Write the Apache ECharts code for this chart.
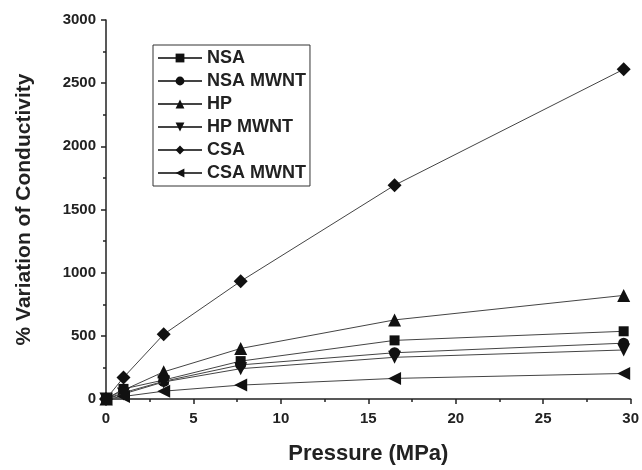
<!DOCTYPE html>
<html><head><meta charset="utf-8">
<script src="https://cdn.jsdelivr.net/npm/echarts@6/dist/echarts.min.js"></script>
<style>html,body{margin:0;padding:0;background:#fff}#c{width:642px;height:470px}</style>
</head><body><div id="c"></div>
<script>
const pressure = [0, 1.0, 3.3, 7.7, 16.5, 29.6];
const NSA      = [0, 80, 150, 300, 464, 536];
const NSA_MWNT = [0, 50, 140, 270, 366, 442];
const HP       = [0, 70, 215, 400, 626, 820];
const HP_MWNT  = [0, 40, 135, 240, 330, 388];
const CSA      = [0, 170, 512, 932, 1692, 2610];
const CSA_MWNT = [0, 20, 62, 110, 163, 202];
const seriesNames = ['NSA','NSA MWNT','HP','HP MWNT','CSA','CSA MWNT'];
const seriesData = [NSA, NSA_MWNT, HP, HP_MWNT, CSA, CSA_MWNT];
const symbols = ['rect','circle','triangle','triangle','diamond','triangle'];
const sizes = [10, 11, 13, 13, 14, 13];
const rotates = [0, 0, 0, 180, 0, 90];

const chart = echarts.init(document.getElementById('c'));
const font = 'Liberation Sans, Arial, sans-serif';
chart.setOption({
  animation: false,
  grid: {left: 106, right: 11, top: 20, bottom: 62, containLabel: false},
  legend: {
    orient: 'vertical', left: 153, top: 45,
    borderColor: '#333', borderWidth: 1, padding: [4, 4, 4, 4],
    itemGap: 5, itemWidth: 44, itemHeight: 11,
    textStyle: {fontFamily: font, fontWeight: 'bold', fontSize: 18, color: '#222', lineHeight: 18},
    data: seriesNames
  },
  xAxis: {
    type: 'value', min: 0, max: 30, interval: 5,
    name: 'Pressure (MPa)', nameLocation: 'middle', nameGap: 44,
    nameTextStyle: {fontFamily: font, fontWeight: 'bold', fontSize: 22, color: '#222'},
    axisLine: {lineStyle: {color: '#222', width: 1.5}},
    axisTick: {inside: false, length: 5, lineStyle: {color: '#222', width: 1.5}},
    minorTick: {show: true, splitNumber: 2, length: 3, lineStyle: {color: '#222', width: 1.5}},
    axisLabel: {fontFamily: font, fontWeight: 'bold', fontSize: 15, color: '#222', margin: 12},
    splitLine: {show: false}
  },
  yAxis: {
    type: 'value', min: 0, max: 3000, interval: 500,
    name: '% Variation of Conductivity', nameLocation: 'middle', nameGap: 71,
    nameTextStyle: {fontFamily: font, fontWeight: 'bold', fontSize: 21, color: '#222'},
    axisLine: {show: true, lineStyle: {color: '#222', width: 1.5}},
    axisTick: {show: true, inside: false, length: 5, lineStyle: {color: '#222', width: 1.5}},
    minorTick: {show: true, splitNumber: 2, length: 3, lineStyle: {color: '#222', width: 1.5}},
    axisLabel: {fontFamily: font, fontWeight: 'bold', fontSize: 15, color: '#222', margin: 10,
      formatter: v => String(v)},
    splitLine: {show: false}
  },
  series: seriesNames.map((n, i) => ({
    name: n, type: 'line',
    data: pressure.map((p, j) => [p, seriesData[i][j]]),
    symbol: symbols[i], symbolSize: sizes[i], symbolRotate: rotates[i],
    showAllSymbol: true,
    lineStyle: {color: '#444', width: 1},
    itemStyle: {color: '#111'},
    z: 2 + i
  }))
});
</script></body></html>
